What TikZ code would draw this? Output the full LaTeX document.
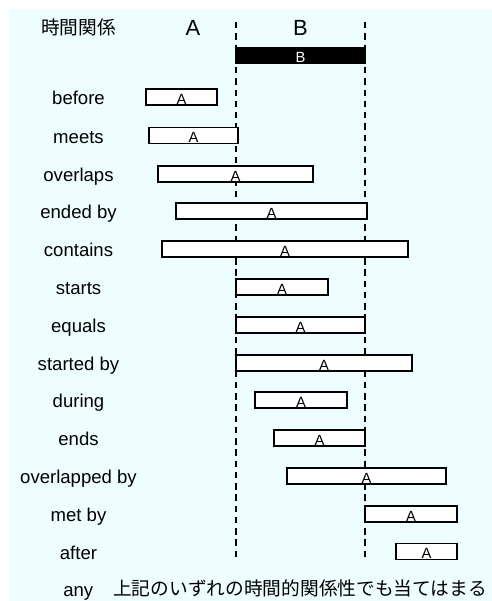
\documentclass[tikz,border=0pt]{standalone}
\usepackage{fontspec}
\setmainfont{Liberation Sans}
\newfontfamily\jpfont{Noto Sans CJK JP}
\definecolor{icecyan}{RGB}{238, 253, 255}

\tikzset{
  rowlabel/.style={anchor=base, inner sep=0pt, font=\fontsize{13.2}{15}\selectfont},
  headlabel/.style={anchor=base, inner sep=0pt, font=\fontsize{15.6}{18}\selectfont},
  abar/.style={draw, line width=0.9pt, fill=white, inner xsep=0pt, inner ysep=0.6pt,
    text height=10.2pt, text depth=0pt, minimum width={#1*0.025cm},
    font=\fontsize{10.5}{12}\selectfont},
  guide/.style={line width=0.9pt, dash pattern=on 4.6pt off 3.4pt}
}

\begin{document}
\begin{tikzpicture}[x=0.025cm, y=-0.025cm]
  \useasboundingbox (0,0) rectangle (492,601);
  \fill[icecyan] (9,9) rectangle (492,601);

  % header
  \node[anchor=base, inner sep=0pt, font=\jpfont\fontsize{13.3}{15}\selectfont] (title) at (78.5,34) {時間関係};
  \node[headlabel] (head-a) at (193,35) {A};
  \node[headlabel] (head-b) at (300.5,35) {B};

  % start and end of B
  \coordinate (bstart-top) at (236,22);
  \coordinate (bstart-bot) at (236,560);
  \coordinate (bend-top) at (365,22);
  \coordinate (bend-bot) at (365,560);
  \draw[guide] (bstart-top) -- (bstart-bot);
  \draw[guide] (bend-top) -- (bend-bot);

  \node[abar=129, fill=black, text=white] (b-bar) at (300.5,55.5) {B};

  % relations
  \node[rowlabel] (before) at (78.5,104.5) {before};
  \node[abar=71] (before-a) at (181.5,97) {A};
  \node[rowlabel] (meets) at (78.5,143) {meets};
  \node[abar=89] (meets-a) at (193.5,135.5) {A};
  \node[rowlabel] (overlaps) at (78.5,181.5) {overlaps};
  \node[abar=155] (overlaps-a) at (235.5,174) {A};
  \node[rowlabel] (endedby) at (78.5,218.5) {ended by};
  \node[abar=191] (endedby-a) at (271.5,211) {A};
  \node[rowlabel] (contains) at (78.5,256.5) {contains};
  \node[abar=246] (contains-a) at (285,249) {A};
  \node[rowlabel] (starts) at (78.5,294.5) {starts};
  \node[abar=92] (starts-a) at (282,287) {A};
  \node[rowlabel] (equals) at (78.5,332.5) {equals};
  \node[abar=129] (equals-a) at (300.5,325) {A};
  \node[rowlabel] (startedby) at (78.5,370.5) {started by};
  \node[abar=176] (startedby-a) at (324,363) {A};
  \node[rowlabel] (during) at (78.5,407.5) {during};
  \node[abar=92] (during-a) at (301,400) {A};
  \node[rowlabel] (ends) at (78.5,445.5) {ends};
  \node[abar=91] (ends-a) at (319.5,438) {A};
  \node[rowlabel] (overlappedby) at (78.5,483.5) {overlapped by};
  \node[abar=159] (overlappedby-a) at (366.5,476) {A};
  \node[rowlabel] (metby) at (78.5,521.5) {met by};
  \node[abar=92] (metby-a) at (411,514) {A};
  \node[rowlabel] (after) at (78.5,559) {after};
  \node[abar=61] (after-a) at (426.5,551.5) {A};

  % bottom line
  \node[rowlabel, anchor=base west] (any) at (63,596) {any};
  \node[anchor=base west, inner sep=0pt, font=\jpfont\fontsize{13.3}{15}\selectfont] (any-text) at (113,595) {上記のいずれの時間的関係性でも当てはまる};
\end{tikzpicture}
\end{document}
